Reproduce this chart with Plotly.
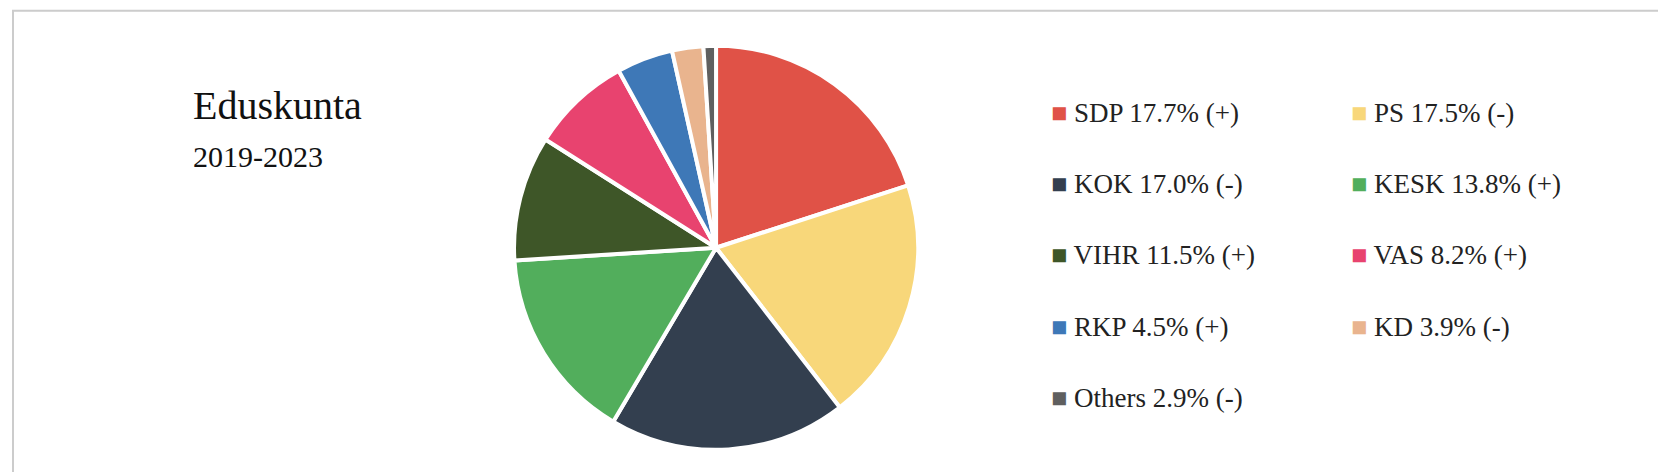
import plotly.graph_objects as go

labels = ["SDP 17.7% (+)", "PS 17.5% (-)", "KOK 17.0% (-)", "KESK 13.8% (+)",
          "VIHR 11.5% (+)", "VAS 8.2% (+)", "RKP 4.5% (+)", "KD 3.9% (-)", "Others 2.9% (-)"]
seats = [40, 39, 38, 31, 20, 16, 9, 5, 2]
colors = ["#e05247", "#f8d77a", "#333f4f", "#52ae5c", "#3e5628",
          "#e8436f", "#3e78b7", "#e9b48e", "#5f5f5f"]

fig = go.Figure(go.Pie(
    labels=labels, values=seats, sort=False, direction="clockwise", rotation=0,
    marker=dict(colors=colors, line=dict(color="white", width=4)),
    textinfo="none", hoverinfo="label", showlegend=False,
    domain=dict(x=[0.22, 0.63], y=[0.064, 0.92]),
))

col_x = [0.625, 0.805]
row_y = [0.778, 0.627, 0.476, 0.325, 0.174]
annotations = [
    dict(text="Eduskunta", x=0.11, y=0.845, xref="paper", yref="paper", showarrow=False,
         font=dict(size=40, family="Liberation Serif", color="#111")),
    dict(text="2019-2023", x=0.11, y=0.725, xref="paper", yref="paper", showarrow=False,
         font=dict(size=30, family="Liberation Serif", color="#111")),
]
for i, (lab, col) in enumerate(zip(labels, colors)):
    x = col_x[i % 2]
    y = row_y[i // 2]
    annotations.append(dict(text=f"<span style='color:{col}'>■</span> <span style='color:#222'>{lab}</span>",
                            x=x, y=y, xref="paper", yref="paper", xanchor="left", yanchor="middle",
                            showarrow=False, font=dict(size=27, family="Liberation Serif")))

fig.update_layout(
    width=1666, height=472, margin=dict(l=0, r=0, t=0, b=0),
    paper_bgcolor="white", plot_bgcolor="white",
    font=dict(family="Liberation Serif", color="#111"),
    shapes=[dict(type="rect", xref="paper", yref="paper", x0=0.003, y0=0.006, x1=0.997, y1=0.994,
                 line=dict(color="#cccccc", width=2))],
    annotations=annotations,
)
fig.write_html("out.html")
